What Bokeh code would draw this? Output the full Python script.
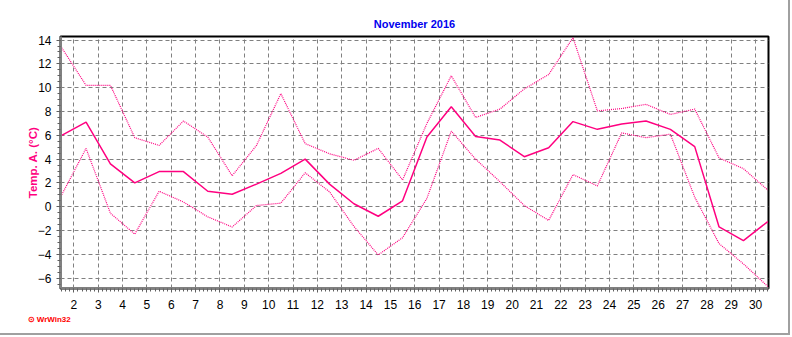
from bokeh.plotting import figure
from bokeh.models import Range1d, FixedTicker, SingleIntervalTicker, Title
from bokeh.embed import file_html
from bokeh.resources import INLINE

# Data: daily values of November 2016 (plotted at midday of each day)
days = list(range(1, 31))
temp_avg = [6.0, 7.1, 3.6, 2.0, 2.95, 2.95, 1.3, 1.05, 1.9, 2.8,
            4.0, 1.9, 0.25, -0.8, 0.5, 5.85, 8.4, 5.9, 5.6, 4.2,
            4.95, 7.15, 6.5, 6.95, 7.2, 6.5, 5.05, -1.7, -2.85, -1.25]
temp_max = [13.35, 10.2, 10.2, 5.8, 5.15, 7.2, 5.85, 2.6, 5.15, 9.5,
            5.3, 4.45, 3.9, 4.9, 2.25, 7.0, 11.0, 7.5, 8.2, 9.9,
            11.1, 14.2, 8.05, 8.25, 8.6, 7.75, 8.2, 4.1, 3.2, 1.4]
temp_min = [1.0, 4.9, -0.55, -2.3, 1.3, 0.4, -0.85, -1.7, 0.1, 0.3,
            2.85, 1.25, -1.65, -4.05, -2.6, 0.7, 6.35, 4.0, 2.1, 0.1,
            -1.15, 2.7, 1.75, 6.2, 5.8, 6.1, 0.8, -3.1, -4.8, -6.7]
x_tick_days = list(range(2, 31))

x = [d + 0.5 for d in days]  # midday of each day

p = figure(width=790, height=335, output_backend="svg", toolbar_location=None,
           x_range=Range1d(1.45, 30.53), y_range=Range1d(-6.87, 14.3),
           min_border_left=60, min_border_right=22, min_border_top=36, min_border_bottom=47)
p.styles = {"border-right": "2px solid #a0a0a0", "border-bottom": "2px solid #a0a0a0"}

p.background_fill_color = "white"
p.border_fill_color = "white"
p.outline_line_color = "black"
p.outline_line_width = 2

COL = "#ff0080"
p.line(x, temp_max, line_color=COL, line_width=1.2, line_dash="1 1")
p.line(x, temp_min, line_color=COL, line_width=1.2, line_dash="1 1")
p.line(x, temp_avg, line_color=COL, line_width=1.5)

minor = [1.5 + i / 6 for i in range(0, 29 * 6 + 1)]
p.xaxis.ticker = FixedTicker(ticks=x_tick_days, minor_ticks=minor)
p.yaxis.ticker = SingleIntervalTicker(interval=2, num_minor_ticks=4)

for ax in (p.xaxis[0], p.yaxis[0]):
    ax.axis_line_color = "#808080"
    ax.axis_line_width = 3
    ax.major_tick_line_color = "#606060"
    ax.minor_tick_line_color = "#606060"
    ax.major_tick_in = 0
    ax.major_tick_out = 4
    ax.minor_tick_in = 0
    ax.minor_tick_out = 3
    ax.major_label_text_font = "Liberation Sans"
    ax.major_label_text_font_size = "12px"
    ax.major_label_text_color = "black"

p.xaxis.major_label_standoff = 7
p.yaxis.major_label_standoff = 5

p.yaxis.axis_label = "Temp. A. (°C)"
p.yaxis.axis_label_text_font = "Liberation Sans"
p.yaxis.axis_label_text_font_style = "bold"
p.yaxis.axis_label_text_font_size = "11.5px"
p.yaxis.axis_label_text_color = COL
p.yaxis.axis_label_standoff = -4

for g in (p.xgrid[0], p.ygrid[0]):
    g.grid_line_color = "#808080"
    g.grid_line_dash = "4 3"
    g.grid_line_width = 1
p.xgrid.ticker = FixedTicker(ticks=x_tick_days)

p.title.text = "November 2016"
p.title.align = "center"
p.title.text_color = "#0000ee"
p.title.text_font = "Liberation Sans"
p.title.text_font_size = "11px"
p.title.text_font_style = "bold"
p.title.standoff = 14

logo = Title(text="⊙ WrWin32", align="left", offset=-33, standoff=2,
             text_color="#ff0000", text_font="Liberation Sans", text_font_size="8px",
             text_font_style="bold")
p.add_layout(logo, "below")

open("out.html", "w").write(file_html(p, INLINE))
